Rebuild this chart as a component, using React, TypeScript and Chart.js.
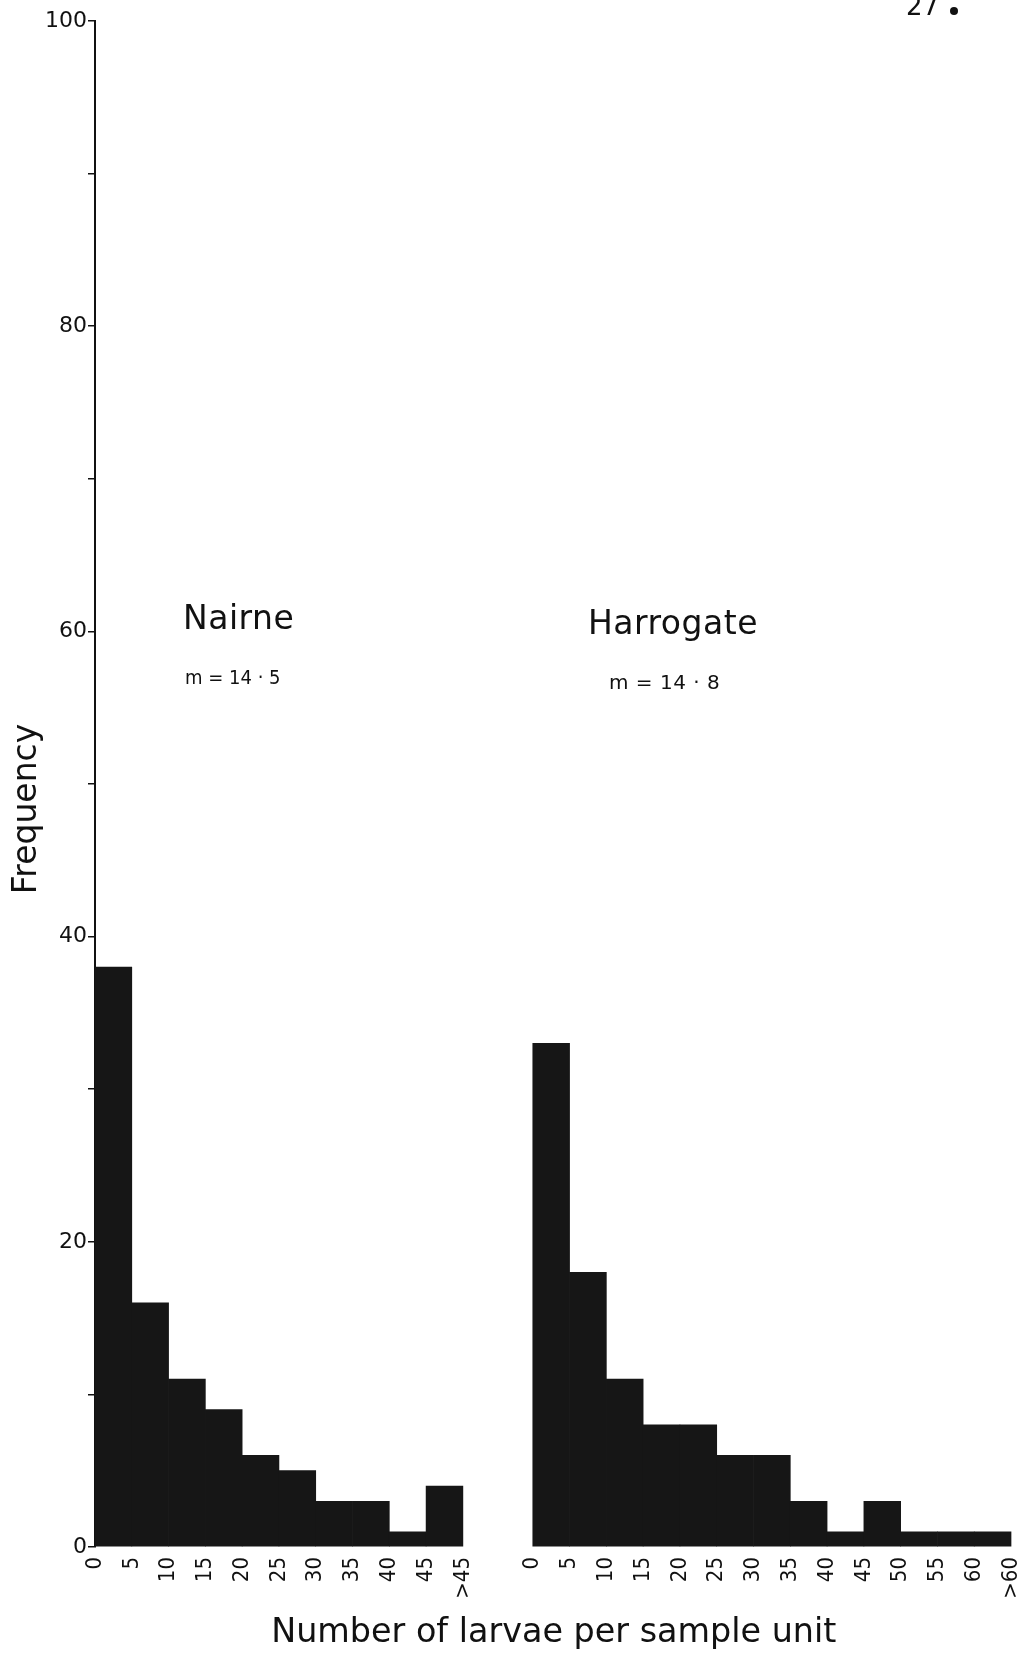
import React, { useEffect, useRef } from "react";
import { Chart, registerables } from "chart.js";

Chart.register(...registerables);

// ---- Data ----
// Class edges (number of larvae per sample unit), classes 5 wide
const nairneEdgeLabels = ["0", "5", "10", "15", "20", "25", "30", "35", "40", "45", ">45"];
const nairneFrequency = [38, 16, 11, 9, 6, 5, 3, 3, 1, 4];

const harrogateEdgeLabels = ["0", "5", "10", "15", "20", "25", "30", "35", "40", "45", "50", "55", "60", ">60"];
const harrogateFrequency = [33, 18, 11, 8, 8, 6, 6, 3, 1, 3, 1, 1, 1];

const yLabelledTicks = [0, 20, 40, 60, 80, 100];
const CLASS_WIDTH = 5;

const siteNames = ["Nairne", "Harrogate"];
const siteMeans = ["m = 14 · 5", "m = 14 · 8"];
const xTitle = "Number of larvae per sample unit";
const yTitle = "Frequency";
const pageNumber = ["27", "."];

// ---- Layout (not data) ----
const W = 1032;
const H = 1654;
const HARROGATE_SHIFT = 59.5; // where the second histogram starts on the shared x scale
const X_MAX = 124.7;
const INK = "#111111";
const BAR = "#161616";
const FONT = '"DejaVu Sans", sans-serif';
const FONT_COND = '"DejaVu Sans Condensed", "DejaVu Sans", sans-serif';

const edgeValues = [
  ...nairneEdgeLabels.map((_, i) => i * CLASS_WIDTH),
  ...harrogateEdgeLabels.map((_, i) => HARROGATE_SHIFT + i * CLASS_WIDTH),
];
const edgeLabels = [...nairneEdgeLabels, ...harrogateEdgeLabels];

const annotationPlugin = {
  id: "figureText",
  afterDraw(chart: any) {
    const ctx = chart.ctx as any;
    ctx.save();
    ctx.fillStyle = INK;
    ctx.textBaseline = "alphabetic";
    ctx.textAlign = "left";
    ctx.font = `33px ${FONT}`;
    ctx.letterSpacing = "0.5px";
    ctx.fillText(siteNames[0], 183, 629);
    ctx.fillText(siteNames[1], 588, 634);
    ctx.font = `20px ${FONT_COND}`;
    ctx.letterSpacing = "0px";
    ctx.fillText(siteMeans[0], 185, 684);
    ctx.font = `20px ${FONT}`;
    ctx.letterSpacing = "0.5px";
    ctx.fillText(siteMeans[1], 609, 689);
    ctx.letterSpacing = "0px";
    ctx.font = `26px ${FONT}`;
    ctx.fillText(pageNumber[0], 906, 15);
    ctx.beginPath();
    ctx.arc(954, 11, 4, 0, Math.PI * 2);
    ctx.fill();
    ctx.translate(36, 809);
    ctx.rotate(-Math.PI / 2);
    ctx.textAlign = "center";
    ctx.font = `33px ${FONT}`;
    ctx.fillText(yTitle, 0, 0);
    ctx.restore();
  },
};

export default function App() {
  const canvasRef = useRef<HTMLCanvasElement | null>(null);

  useEffect(() => {
    const canvas = canvasRef.current;
    if (!canvas) return;
    const chart = new Chart(canvas, {
      type: "bar",
      data: {
        datasets: [
          {
            label: siteNames[0],
            data: nairneFrequency.map((v, i) => ({ x: i * CLASS_WIDTH + CLASS_WIDTH / 2, y: v })),
            backgroundColor: BAR,
            borderWidth: 0,
            barPercentage: 1,
            categoryPercentage: 1,
            grouped: false,
          } as any,
          {
            label: siteNames[1],
            data: harrogateFrequency.map((v, i) => ({
              x: HARROGATE_SHIFT + i * CLASS_WIDTH + CLASS_WIDTH / 2,
              y: v,
            })),
            backgroundColor: BAR,
            borderWidth: 0,
            barPercentage: 1,
            categoryPercentage: 1,
            grouped: false,
          } as any,
        ],
      },
      options: {
        responsive: false,
        maintainAspectRatio: false,
        animation: false,
        layout: { padding: { top: 21, right: 19.5, bottom: 0, left: 0 } },
        plugins: {
          legend: { display: false },
          tooltip: { enabled: false },
        },
        scales: {
          x: {
            type: "linear",
            min: 0,
            max: X_MAX,
            offset: false,
            grid: { display: false, drawTicks: false, offset: false },
            border: { display: false },
            afterBuildTicks: (scale: any) => {
              scale.ticks = edgeValues.map((v) => ({ value: v }));
            },
            afterFit: (scale: any) => {
              scale.height = 107;
              scale.paddingLeft = 0;
              scale.paddingRight = 0;
            },
            ticks: {
              autoSkip: false,
              minRotation: 90,
              maxRotation: 90,
              padding: 10,
              color: INK,
              font: { family: FONT_COND, size: 22 },
              callback: (_v: any, index: number) => edgeLabels[index],
            },
            title: {
              display: true,
              text: xTitle,
              color: INK,
              font: { family: FONT, size: 33.4 },
              padding: { top: 0, bottom: 1 },
            },
          },
          y: {
            type: "linear",
            min: 0,
            max: 100,
            grid: {
              drawOnChartArea: false,
              drawTicks: true,
              tickLength: 7,
              color: INK,
              lineWidth: 1.5,
            },
            border: { display: true, color: INK, width: 2 },
            afterFit: (scale: any) => {
              scale.width = 95;
              scale.paddingTop = 0;
              scale.paddingBottom = 0;
            },
            ticks: {
              stepSize: 10,
              padding: 1,
              color: INK,
              font: { family: FONT, size: 22 },
              callback: (v: any) => (yLabelledTicks.includes(Number(v)) ? String(v) : ""),
            },
          },
        },
      },
      plugins: [annotationPlugin],
    });
    return () => chart.destroy();
  }, []);

  return (
    <div style={{ position: "absolute", left: 0, top: 0, width: W, height: H, background: "#ffffff" }}>
      <canvas ref={canvasRef} width={W} height={H} style={{ display: "block" }} />
    </div>
  );
}
